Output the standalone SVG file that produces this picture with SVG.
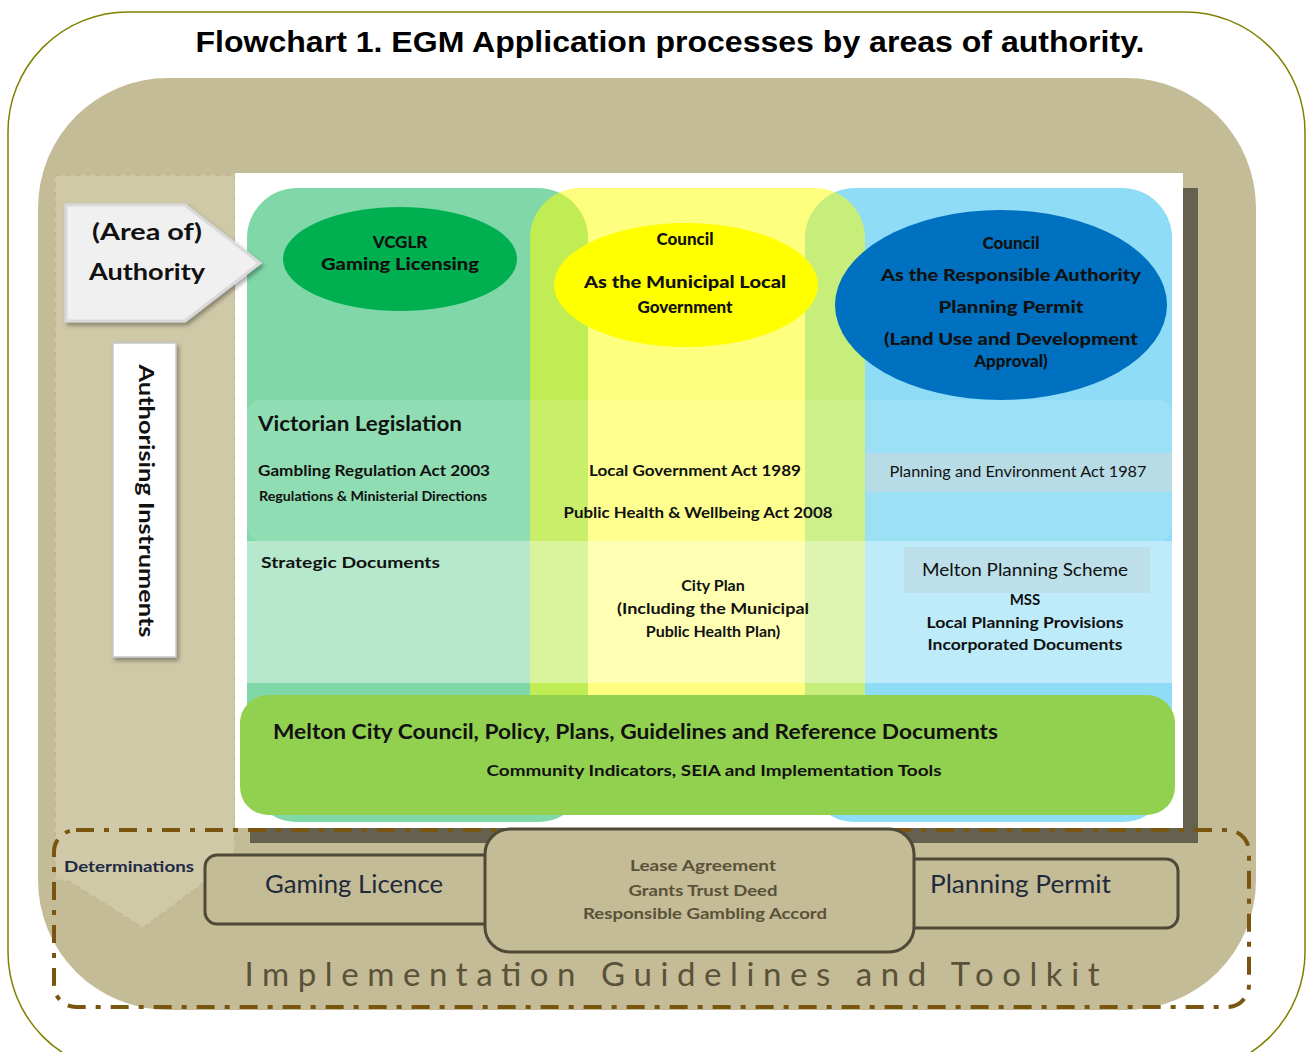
<svg xmlns="http://www.w3.org/2000/svg" width="1309" height="1052" viewBox="0 0 1309 1052">
  <defs>
    <style>
      .f { font-family: Lato, "Liberation Sans", sans-serif; fill: #111; }
      .b { font-weight: bold; }
      .h { font-weight: 900; }
      .mid { text-anchor: middle; }
      .band1 { fill: #ffffff; opacity: 0.13; }
      .band2 { fill: #ffffff; opacity: 0.42; }
      .det { fill: #c4bb97; stroke: #4f4a38; stroke-width: 3; }
    </style>
    <filter id="shadow" x="-20%" y="-20%" width="140%" height="140%">
      <feDropShadow dx="2" dy="3" stdDeviation="2" flood-color="#000" flood-opacity="0.35"/>
    </filter>
  </defs>

  <!-- page frame -->
  <rect x="8" y="12" width="1297" height="1060" rx="120" fill="#ffffff" stroke="#808000" stroke-width="1.5"/>

  <!-- heading -->
  <text x="670" y="52" class="b mid" font-family="'Liberation Sans', Arial, sans-serif" font-size="29" fill="#000" textLength="949" lengthAdjust="spacingAndGlyphs">Flowchart 1. EGM Application processes by areas of authority.</text>

  <!-- tan backdrop -->
  <rect x="38" y="78" width="1218" height="932" rx="130" fill="#c4bb97"/>

  <!-- lighter left strip -->
  <polygon points="55,175 235,175 235,850 205,882 143,928 70,882 55,880" fill="#cfc9a8" stroke="#c3ba94" stroke-width="2" stroke-dasharray="6,4"/>

  <!-- white panel with shadow -->
  <rect x="250" y="188" width="948" height="655" fill="#64614f"/>
  <rect x="235" y="173" width="948" height="655" fill="#ffffff"/>

  <!-- authority columns -->
  <g id="columns">
    <rect x="247" y="188" width="341" height="634" rx="50" fill="#80d8a8"/>
    <rect x="805" y="188" width="367" height="634" rx="50" fill="#8edcf5"/>
    <rect x="530" y="188" width="335" height="627" rx="50" fill="#ffff00" opacity="0.5"/>
  </g>

  <!-- horizontal bands -->
  <g id="bands">
    <rect x="247" y="400" width="925" height="141" rx="14" class="band1"/>
    <rect x="866" y="453" width="306" height="39" fill="#b7dce6"/>
    <rect x="247" y="541" width="930" height="142" class="band2"/>
    <rect x="904" y="547" width="246" height="46" fill="#bcdfe9"/>
  </g>

  <!-- authority ellipses -->
  <g id="vcglr">
    <ellipse cx="400" cy="259" rx="117" ry="52" fill="#00b050"/>
    <text x="400" y="248" class="f h mid" font-size="17">VCGLR</text>
    <text x="400" y="270" class="f h mid" font-size="17" textLength="158" lengthAdjust="spacingAndGlyphs">Gaming Licensing</text>
  </g>

  <g id="council-local">
    <ellipse cx="686" cy="285" rx="132" ry="62" fill="#ffff00"/>
    <text x="685" y="245" class="f h mid" font-size="17">Council</text>
    <text x="685" y="288" class="f h mid" font-size="17" textLength="202" lengthAdjust="spacingAndGlyphs">As the Municipal Local</text>
    <text x="685" y="313" class="f h mid" font-size="17">Government</text>
  </g>

  <g id="council-responsible">
    <ellipse cx="1001" cy="305" rx="166" ry="95" fill="#0070c0"/>
    <text x="1011" y="249" class="f h mid" font-size="17">Council</text>
    <text x="1011" y="281" class="f h mid" font-size="17" textLength="260" lengthAdjust="spacingAndGlyphs">As the Responsible Authority</text>
    <text x="1011" y="313" class="f h mid" font-size="17" textLength="145" lengthAdjust="spacingAndGlyphs">Planning Permit</text>
    <text x="1011" y="345" class="f h mid" font-size="17" textLength="254" lengthAdjust="spacingAndGlyphs">(Land Use and Development</text>
    <text x="1011" y="367" class="f h mid" font-size="17">Approval)</text>
  </g>

  <!-- legislation -->
  <g id="victorian-legislation">
    <text x="258" y="431" class="f b" font-size="21" textLength="204" lengthAdjust="spacingAndGlyphs">Victorian Legislation</text>
    <text x="258" y="476" class="f b" font-size="16" textLength="232" lengthAdjust="spacingAndGlyphs">Gambling Regulation Act 2003</text>
    <text x="259" y="501" class="f b" font-size="13" textLength="228" lengthAdjust="spacingAndGlyphs">Regulations &amp; Ministerial Directions</text>
  </g>

  <g id="council-legislation">
    <text x="695" y="476" class="f b mid" font-size="16" textLength="212" lengthAdjust="spacingAndGlyphs">Local Government Act 1989</text>
    <text x="698" y="518" class="f b mid" font-size="16" textLength="269" lengthAdjust="spacingAndGlyphs">Public Health &amp; Wellbeing Act 2008</text>
  </g>

  <g id="planning-legislation">
    <text x="1018" y="477" class="f mid" font-size="16" textLength="257" lengthAdjust="spacingAndGlyphs">Planning and Environment Act 1987</text>
  </g>

  <!-- strategic documents -->
  <g id="strategic-documents">
    <text x="261" y="568" class="f b" font-size="16" textLength="179" lengthAdjust="spacingAndGlyphs">Strategic Documents</text>
  </g>

  <g id="city-plan">
    <text x="713" y="591" class="f b mid" font-size="16">City Plan</text>
    <text x="713" y="614" class="f b mid" font-size="16" textLength="192" lengthAdjust="spacingAndGlyphs">(Including the Municipal</text>
    <text x="713" y="637" class="f b mid" font-size="16">Public Health Plan)</text>
  </g>

  <g id="planning-scheme">
    <text x="1025" y="576" class="f mid" font-size="17" textLength="206" lengthAdjust="spacingAndGlyphs">Melton Planning  Scheme</text>
    <text x="1025" y="605" class="f b mid" font-size="15">MSS</text>
    <text x="1025" y="628" class="f b mid" font-size="16" textLength="197" lengthAdjust="spacingAndGlyphs">Local Planning Provisions</text>
    <text x="1025" y="650" class="f b mid" font-size="16" textLength="195" lengthAdjust="spacingAndGlyphs">Incorporated Documents</text>
  </g>

  <!-- council policy bar -->
  <g id="council-policy">
    <rect x="240" y="695" width="935" height="120" rx="28" fill="#92d050"/>
    <text x="273" y="739" class="f b" font-size="20" textLength="725" lengthAdjust="spacingAndGlyphs">Melton City Council, Policy, Plans, Guidelines and Reference Documents</text>
    <text x="714" y="776" class="f b mid" font-size="16" textLength="455" lengthAdjust="spacingAndGlyphs">Community Indicators, SEIA and Implementation Tools</text>
  </g>

  <!-- side labels -->
  <g id="area-of-authority">
    <polygon points="66,205 185,205 260,263 185,321 66,321" fill="#f0f0f0" stroke="#d9d9d9" stroke-width="3" filter="url(#shadow)"/>
    <text x="147" y="240" class="f b mid" font-size="23" textLength="110" lengthAdjust="spacingAndGlyphs">(Area of)</text>
    <text x="147" y="280" class="f b mid" font-size="23" textLength="116" lengthAdjust="spacingAndGlyphs">Authority</text>
  </g>

  <g id="authorising-instruments">
    <rect x="113" y="343" width="63" height="314" fill="#ffffff" stroke="#c8c8c8" stroke-width="1.5" filter="url(#shadow)"/>
    <text transform="translate(139,501) rotate(90)" class="f b mid" font-size="21" textLength="273" lengthAdjust="spacingAndGlyphs">Authorising Instruments</text>
  </g>

  <!-- implementation frame -->
  <rect x="54" y="830" width="1195" height="177" rx="22" fill="none" stroke="#7a5510" stroke-width="4" stroke-dasharray="18,10,5,10"/>

  <g id="determinations">
    <text x="64" y="872" class="f b" font-size="16" style="fill:#1f2a44" textLength="130" lengthAdjust="spacingAndGlyphs">Determinations</text>
  </g>

  <g id="gaming-licence">
    <rect x="205" y="855" width="300" height="69" rx="12" class="det"/>
    <text x="354" y="893" class="f mid" font-size="25" style="fill:#1f2a3a" textLength="178" lengthAdjust="spacingAndGlyphs">Gaming Licence</text>
  </g>

  <g id="planning-permit">
    <rect x="890" y="859" width="288" height="69" rx="12" class="det"/>
    <text x="930" y="893" class="f" font-size="25" style="fill:#1f2a3a" textLength="181" lengthAdjust="spacingAndGlyphs">Planning Permit</text>
  </g>

  <g id="agreements">
    <rect x="485" y="829" width="429" height="123" rx="25" class="det"/>
    <text x="703" y="871" class="f b mid" font-size="16" style="fill:#5a5238" textLength="146" lengthAdjust="spacingAndGlyphs">Lease Agreement</text>
    <text x="703" y="896" class="f b mid" font-size="16" style="fill:#5a5238" textLength="149" lengthAdjust="spacingAndGlyphs">Grants Trust Deed</text>
    <text x="705" y="919" class="f b mid" font-size="16" style="fill:#5a5238" textLength="244" lengthAdjust="spacingAndGlyphs">Responsible  Gambling  Accord</text>
  </g>

  <g id="implementation">
    <text x="672" y="986" class="f mid" font-size="33" style="fill:#5a5238" textLength="855" lengthAdjust="spacing">Implementation Guidelines and Toolkit</text>
  </g>
</svg>
